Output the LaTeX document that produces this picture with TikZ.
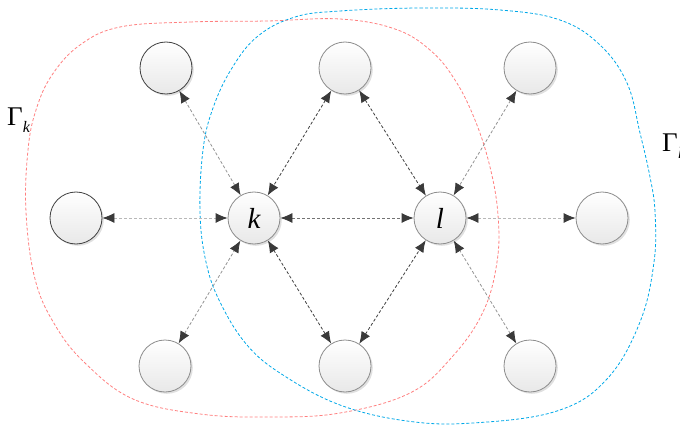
\documentclass[tikz,border=0pt]{standalone}
\usepackage{fontspec}
\setmainfont{Liberation Serif}
\usetikzlibrary{arrows.meta,shadows}
\definecolor{tipc}{HTML}{3A3A3A}
\definecolor{redc}{HTML}{FF7F7F}
\definecolor{bluec}{HTML}{00A8E8}
\tikzset{
  nd/.style={circle, minimum size=52pt, inner sep=0pt, draw=black!45, line width=0.8pt,
    top color=white, bottom color=black!9,
    drop shadow={shadow xshift=1.8pt, shadow yshift=-1.8pt, fill=black, opacity=0.12}},
  ndd/.style={nd, draw=black!75},
  lnk/.style={dash pattern=on 3pt off 2pt, line width=0.8pt,
    {Latex[length=12pt,width=10pt,color=tipc]}-{Latex[length=12pt,width=10pt,color=tipc]}},
  dk/.style={lnk, draw=black!75},
  md/.style={lnk, draw=black!55},
  lt/.style={lnk, draw=black!42},
  lr/.style={lnk, draw=black!28},
  region/.style={dash pattern=on 3pt off 2pt, line width=0.8pt},
  lab/.style={font=\fontsize{29}{29}\selectfont\itshape, inner sep=0pt}
}
\begin{document}
\begin{tikzpicture}[x=1pt,y=-1pt]
\useasboundingbox (0,0) rectangle (680,425);
% regions
\draw[region, redc] plot[smooth cycle, tension=0.65] coordinates {
 (120,27) (190,22) (267,21) (340,19) (395,29) (430,50) (455,80) (475,120) (490,167)
 (498,215) (497,262) (483,312) (452,357) (410,393) (340,413) (270,417) (200,414)
 (133,399) (85,363) (55,325) (35,279) (26,212) (28,150) (36,110) (52,75) (80,45)};
\draw[region, bluec] plot[smooth cycle, tension=0.65] coordinates {
 (340,11) (420,8) (500,10) (560,20) (600,45) (627,83) (640,133) (650,177) (655,212)
 (654,262) (640,322) (607,379) (557,411) (473,423) (407,421) (340,405) (283,375)
 (247,345) (220,302) (206,262) (200,212) (203,150) (213,108) (232,68) (258,36) (295,17)};
% nodes
\node[ndd] (tl) at (166,68) {};
\node[nd]  (tm) at (345,68) {};
\node[nd]  (tr) at (530,68) {};
\node[ndd] (le) at (76,218) {};
\node[nd]  (k)  at (254,218) {};
\node[nd]  (l)  at (440,218) {};
\node[nd]  (ri) at (602,218) {};
\node[nd]  (bl) at (165,366) {};
\node[nd]  (bm) at (345,366) {};
\node[nd]  (br) at (530,366) {};
\node[lab] at (k) {k};
\node[lab] at (l) {l};
% links
\draw[lt] (tl) -- (k);
\draw[dk] (tm) -- (k);
\draw[dk] (tm) -- (l);
\draw[lt] (tr) -- (l);
\draw[lr] (le) -- (k);
\draw[md] (k) -- (l);
\draw[lr] (l) -- (ri);
\draw[lt] (bl) -- (k);
\draw[dk] (bm) -- (k);
\draw[dk] (bm) -- (l);
\draw[lt] (br) -- (l);
% labels
\node[anchor=base west, inner sep=0pt] (gk) at (7,126) {\fontsize{27}{27}\selectfont Γ\raisebox{-7pt}{\fontsize{16}{16}\selectfont\itshape k}};
\node[anchor=base west, inner sep=0pt] (gl) at (662,151) {\fontsize{27}{27}\selectfont Γ\raisebox{-7pt}{\fontsize{16}{16}\selectfont\itshape l}};
\end{tikzpicture}
\end{document}
